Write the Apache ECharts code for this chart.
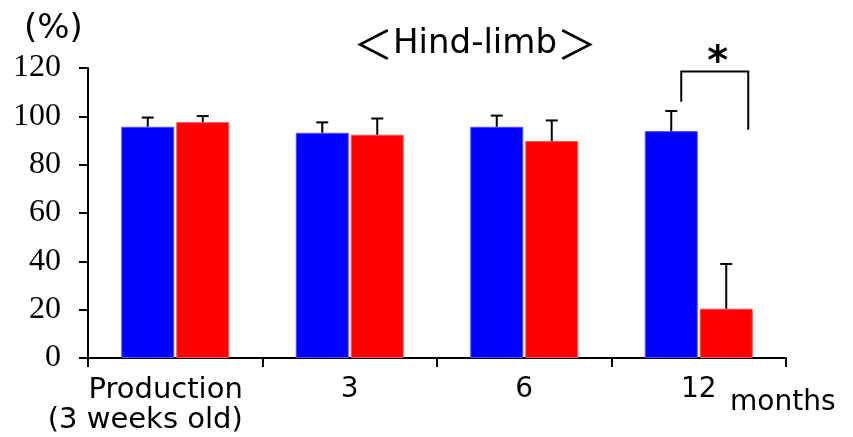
<!DOCTYPE html>
<html>
<head>
<meta charset="utf-8">
<script src="https://cdn.jsdelivr.net/npm/echarts@6/dist/echarts.min.js"></script>
<style>html,body{margin:0;padding:0;background:#fff;}#c{width:853px;height:437px;}</style>
</head>
<body>
<div id="c"></div>
<script>
const categories = ['Production\n(3 weeks old)', '3', '6', '12'];
const blueValues = [95.7, 93.2, 95.7, 93.9];
const blueErrors = [3.8, 4.3, 4.6, 8.3];
const redValues = [97.6, 92.4, 89.8, 20.4];
const redErrors = [2.5, 6.7, 8.5, 18.5];
const yTicks = { min: 0, max: 120, interval: 20 };
// significance bracket: [category index, left leg bottom, top, right leg bottom]
const bracket = [[3, 106, 118.6, 94.4]];

const BAR_W = 53, BAR_GAP = 2;
const OFF = (BAR_W + BAR_GAP) / 2;
const SANS = '"DejaVu Sans", sans-serif';

function errRender(sign) {
  return function (params, api) {
    const v = api.value(1), e = api.value(2);
    const b = api.coord([api.value(0), v]);
    const t = api.coord([api.value(0), v + e]);
    const x = b[0] + sign * OFF;
    const st = { stroke: '#000', lineWidth: 2 };
    return {
      type: 'group',
      children: [
        { type: 'line', shape: { x1: x, y1: b[1], x2: x, y2: t[1] }, style: st },
        { type: 'line', shape: { x1: x - 6, y1: t[1], x2: x + 6, y2: t[1] }, style: st }
      ]
    };
  };
}

const chart = echarts.init(document.getElementById('c'), null, { renderer: 'canvas' });
chart.setOption({
  animation: false,
  backgroundColor: '#fff',
  grid: { left: 88, right: 67, top: 68, bottom: 79, containLabel: false },
  title: {
    text: '{b|＜}{t|Hind-limb}{b|＞}', left: 470, top: 19, textAlign: 'center',
    textStyle: {
      fontFamily: SANS, fontSize: 34, fontWeight: 'normal', color: '#000',
      rich: {
        t: { fontFamily: SANS, fontSize: 34, color: '#000', lineHeight: 40, verticalAlign: 'middle' },
        b: { fontFamily: '"Noto Sans CJK JP", sans-serif', fontSize: 40, color: '#000', lineHeight: 40, verticalAlign: 'middle' }
      }
    }
  },
  graphic: [
    { type: 'text', left: 24, top: 12, style: { text: '(%)', font: '34px ' + SANS, fill: '#000' } },
    { type: 'text', left: 730, top: 389, style: { text: 'months', font: '28px ' + SANS, fill: '#000' } }
  ],
  xAxis: {
    type: 'category', data: categories,
    axisLine: { lineStyle: { color: '#000', width: 2 } },
    axisTick: { show: true, length: 9, lineStyle: { color: '#000', width: 2 }, alignWithLabel: false },
    axisLabel: {
      interval: 0, margin: 17, color: '#000', fontFamily: SANS, fontSize: 28, lineHeight: 30,
      formatter: function (v, i) {
        return i === 0 ? v.split('\n').map(s => '{r|' + s + '}').join('\n') : v;
      },
      rich: { r: { align: 'right', padding: [0, 60, 0, 0], fontFamily: SANS, fontSize: 29, lineHeight: 30, color: '#000' } }
    },
    splitLine: { show: false }
  },
  yAxis: {
    type: 'value', min: yTicks.min, max: yTicks.max, interval: yTicks.interval,
    axisLine: { show: true, lineStyle: { color: '#000', width: 2 } },
    axisTick: { show: true, length: 9, lineStyle: { color: '#000', width: 2 } },
    axisLabel: { margin: 27, color: '#000', fontFamily: '"Liberation Serif", serif', fontSize: 32 },
    splitLine: { show: false }
  },
  series: [
    { type: 'bar', data: blueValues, barWidth: BAR_W, barGap: (BAR_GAP / BAR_W * 100) + '%',
      itemStyle: { color: '#0000ff', borderColor: '#5050ff', borderWidth: 1 } },
    { type: 'bar', data: redValues, barWidth: BAR_W,
      itemStyle: { color: '#ff0000', borderColor: '#ff5050', borderWidth: 1 } },
    { type: 'custom', renderItem: errRender(-1), data: blueValues.map((v, i) => [i, v, blueErrors[i]]), z: 5 },
    { type: 'custom', renderItem: errRender(1), data: redValues.map((v, i) => [i, v, redErrors[i]]), z: 5 },
    { type: 'custom', z: 5, data: bracket,
      renderItem: function (params, api) {
        const c = api.value(0);
        const lb = api.coord([c, api.value(1)]);
        const tp = api.coord([c, api.value(2)]);
        const rb = api.coord([c, api.value(3)]);
        const xl = lb[0] - OFF + 10, xr = lb[0] + OFF + 22;
        return {
          type: 'group',
          children: [
            { type: 'polyline', shape: { points: [[xl, lb[1]], [xl, tp[1]], [xr, tp[1]], [xr, rb[1]]] },
              style: { stroke: '#000', lineWidth: 2, fill: null } },
            { type: 'text', x: (xl + xr) / 2 + 3, y: tp[1] - 8,
              style: { text: '*', font: 'bold 40px ' + SANS, fill: '#000', align: 'center', verticalAlign: 'middle' } }
          ]
        };
      }
    }
  ]
});
</script>
</body>
</html>
